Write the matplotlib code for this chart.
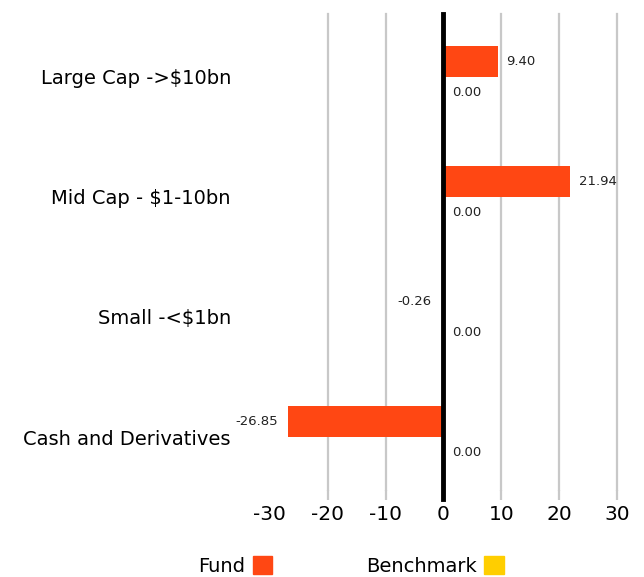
import numpy as np
import matplotlib
matplotlib.use("Agg")
from matplotlib import pyplot as plt
from matplotlib.patches import Patch

plt.rcParams['font.family'] = ['DejaVu Sans']

categories = ['Large Cap ->$10bn', 'Mid Cap - $1-10bn', 'Small -<$1bn', 'Cash and Derivatives']
fund = [9.40, 21.94, -0.26, -26.85]
benchmark = [0.00, 0.00, 0.00, 0.00]
xticks = [-30, -20, -10, 0, 10, 20, 30]

fund_col = '#FF4713'
bench_col = '#FFCE00'
grid_col = '#C8C8C8'

fig = plt.figure(figsize=(6.44, 5.77), dpi=100)
ax = fig.add_axes([0.419, 0.151, 0.539, 0.825])

y = np.arange(len(categories))
h = 0.26
ax.barh(y - h / 2, fund, height=h, color=fund_col, zorder=3)
ax.barh(y + h / 2, benchmark, height=h, color=bench_col, zorder=3)

def lab(vals, ys):
    for v, yy in zip(vals, ys):
        if v < 0:
            ax.annotate(f'{v:.2f}', (v, yy), xytext=(-7.5, 0), textcoords='offset points',
                        ha='right', va='center', fontsize=9.5, color='#222222')
        else:
            ax.annotate(f'{v:.2f}', (v, yy), xytext=(6, 0), textcoords='offset points',
                        ha='left', va='center', fontsize=9.5, color='#222222')

lab(fund, y - h / 2)
lab(benchmark, y + h / 2)

ax.set_xlim(-30, 30)
ax.set_ylim(3.44, -0.525)
for xv in xticks[1:]:
    if xv != 0:
        ax.axvline(xv, color=grid_col, lw=1.6, zorder=1, clip_on=False)
ax.axvline(0, ymin=-0.019, ymax=1, color='black', lw=3.5, zorder=4, clip_on=False)

ax.set_xticks(xticks)
ax.set_xticklabels([str(t) for t in xticks], fontsize=14.5)
ax.tick_params(axis='x', length=7, width=1.6, color=grid_col, pad=4)
tl = ax.xaxis.get_major_ticks()
tl[0].tick1line.set_visible(False)
tl[3].tick1line.set_visible(False)
ax.set_yticks(y)
ax.set_yticklabels(categories, fontsize=14)
ax.tick_params(axis='y', length=0, pad=28)
for s in ax.spines.values():
    s.set_visible(False)

handles = [Patch(color=fund_col), Patch(color=bench_col)]
fig.legend(handles, ['Fund', 'Benchmark'], loc='center', bbox_to_anchor=(0.545, 0.019),
           ncol=2, frameon=False, markerfirst=False, fontsize=14,
           handlelength=1.0, handleheight=1.0, columnspacing=4.8, handletextpad=0.4)

fig.savefig('out.png', dpi=100)
